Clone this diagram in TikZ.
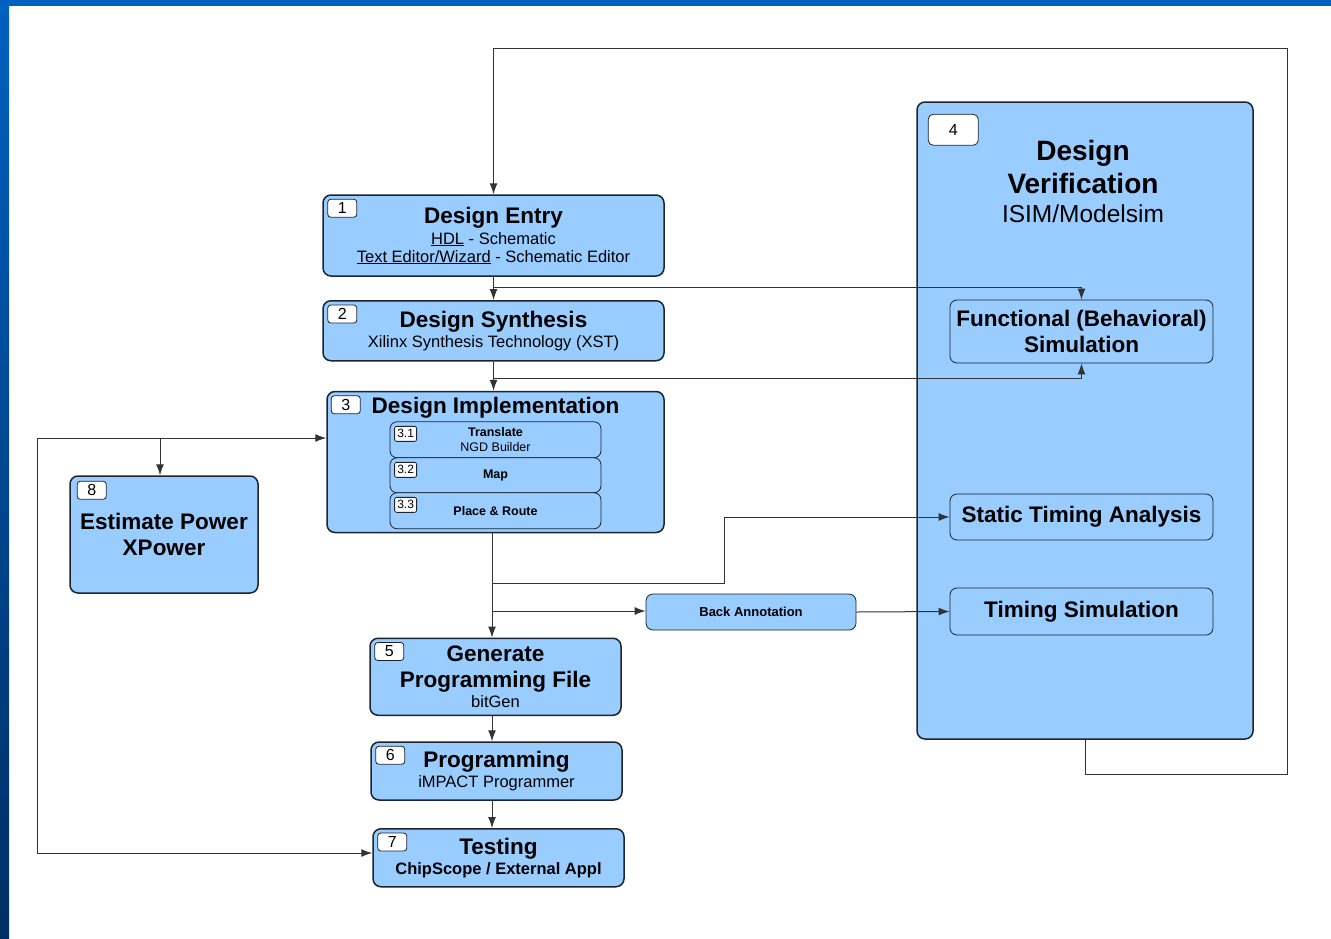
\documentclass[tikz,border=0pt]{standalone}
\usepackage{fontspec}
\setmainfont{Liberation Sans}
\usetikzlibrary{arrows.meta,positioning}
\definecolor{boxblue}{RGB}{153,204,255}
\definecolor{edgeblue}{RGB}{28,36,48}
\definecolor{bandtop}{RGB}{0,96,192}
\definecolor{bandbot}{RGB}{0,46,100}
\newcommand{\boxtitle}{\fontsize{22.5}{26}\selectfont\bfseries}
\newcommand{\boxsub}{\fontsize{16.5}{18}\selectfont}
\newcommand{\boxsmall}{\fontsize{12.5}{15}\selectfont}
\newcommand{\bigtitle}{\fontsize{28}{33}\selectfont\bfseries}
\tikzstyle{myNode}=[draw=edgeblue, line width=1.5pt, fill=boxblue,
	rounded corners=8pt, align=center, inner sep=0pt, font=\fontsize{16.5}{18}\selectfont]
\tikzstyle{subNode}=[draw=edgeblue, line width=0.8pt, fill=boxblue,
	rounded corners=7pt, align=center, inner sep=0pt, font=\fontsize{16.5}{18}\selectfont]
\tikzstyle{numbox}=[draw=edgeblue, line width=0.8pt, fill=white, rounded corners=3pt,
	minimum width=29pt, minimum height=18pt, inner sep=0pt, font=\fontsize{16}{16}\selectfont]
\tikzstyle{subnum}=[numbox, minimum width=22pt, minimum height=15pt,
	rounded corners=2pt, font=\fontsize{12}{12}\selectfont]
\tikzstyle{texto}=[align=center, font=\fontsize{16.5}{18}\selectfont]
\tikzstyle{line}=[draw, line width=1pt, color=black!80, -{Latex[length=11pt,width=8pt]}]
\newcommand{\myNode}[4]{node (p#1) [myNode, minimum width=#2, minimum height=#3]
	{#4}}
\newcommand{\stepNum}[1]{\path (p#1.north west)+(20,14) node (n#1) [numbox] {#1};}
\begin{document}
\begin{tikzpicture}[x=1pt,y=-1pt]
	
	% Page with the blue frame
	\fill[white] (0,0) rectangle (1331,938);
	\shade[top color=bandtop, bottom color=bandbot] (0,0) rectangle (9,938);
	\fill[bandtop] (0,0) rectangle (1331,6);
	\useasboundingbox (0,0) rectangle (1331,938);
	
	\path (493.5,235.5) \myNode{1}{341pt}{81pt}{{\boxtitle Design Entry}\\[3pt]
		{\boxsub \underline{HDL} - Schematic}\\
		{\boxsub \underline{Text Editor/Wizard} - Schematic Editor}};
	\path (p1.south)+(0,54) \myNode{2}{341pt}{60pt}{{\boxtitle Design Synthesis}\\[2pt]
		{\boxsub Xilinx Synthesis Technology (XST)}};
	\path (p2.south)+(2,100.5) \myNode{3}{337pt}{141pt}{};
	\path (p3.north)+(0,17) node (t3) [texto] {\boxtitle Design Implementation};
	\path (p3.south)+(0,143.5) \myNode{5}{251pt}{77pt}{{\boxtitle Generate}\\[8pt]
		{\boxtitle Programming File}\\[2pt] {\boxsub bitGen}};
	\path (p5.south)+(1,55) \myNode{6}{251pt}{58pt}{{\boxtitle Programming}\\[2pt]
		{\boxsub iMPACT Programmer}};
	\path (p6.south)+(2,57) \myNode{7}{251pt}{58pt}{{\boxtitle Testing}\\[2pt]
		{\boxsub\bfseries ChipScope / External Appl}};
	\path (164,534.5) \myNode{8}{188pt}{117pt}{{\boxtitle Estimate Power}\\[8pt]
		{\boxtitle XPower}};
	\path (1085,420.5) \myNode{4}{336pt}{637pt}{};
	\path (p4.north)+(-2,80) node (t4) [texto] {{\bigtitle Design}\\[6pt]
		{\bigtitle Verification}\\[10pt] {\fontsize{24.5}{27}\selectfont ISIM/Modelsim}};
	
	% Steps of the implementation
	\path (p3.north)+(0,49) node (p31) [subNode, minimum width=211pt, minimum height=36pt]
		{{\boxsmall\bfseries Translate}\\[-3pt] {\boxsmall NGD Builder}};
	\path (p3.north)+(0,84.5) node (p32) [subNode, minimum width=211pt, minimum height=35pt]
		{\boxsmall\bfseries Map};
	\path (p3.north)+(0,120) node (p33) [subNode, minimum width=211pt, minimum height=36pt]
		{\boxsmall\bfseries Place \& Route};
	\path (p31.north west)+(16,12.5) node (n31) [subnum] {3.1};
	\path (p32.north west)+(16,12.5) node (n32) [subnum] {3.2};
	\path (p33.north west)+(16,12.5) node (n33) [subnum] {3.3};
	
	% Verification steps
	\path (1081.5,331.5) node (p41) [subNode, minimum width=263pt, minimum height=63pt]
		{{\boxtitle Functional (Behavioral)}\\[4pt] {\boxtitle Simulation}};
	\path (1081.5,517) node (p42) [subNode, minimum width=263pt, minimum height=46pt]
		{\boxtitle Static Timing Analysis};
	\path (1081.5,611.5) node (p43) [subNode, minimum width=263pt, minimum height=47pt]
		{\boxtitle Timing Simulation};
	\path (751,612) node (p9) [subNode, minimum width=210pt, minimum height=36pt]
		{\fontsize{13}{15}\selectfont\bfseries Back Annotation};
	
	% Step numbers
	\stepNum{1}
	\stepNum{2}
	\path (p3.north west)+(19.5,14) node (n3) [numbox] {3};
	\stepNum{5}
	\stepNum{6}
	\stepNum{7}
	\path (p8.north west)+(22.5,15) node (n8) [numbox] {8};
	\path (p4.north west)+(37,28.5) node (n4) [numbox, minimum width=50pt,
		minimum height=31pt, rounded corners=5pt] {4};
	
	% Corners of the connectors
	\coordinate (spine) at (492,0);
	\coordinate (b1) at (493,287);
	\coordinate (b2) at (493,378);
	\coordinate (b3) at (492,583);
	\coordinate (b4) at (492,611);
	\coordinate (k1) at (724,583);
	\coordinate (r1) at (1287,774);
	\coordinate (r2) at (1287,48);
	\coordinate (l1) at (37,438);
	\coordinate (l2) at (37,853);
	\coordinate (l3) at (160,438);
	
	% Draw arrows between elements
	\path [line] (p1.south) -- (p2.north);
	\path [line] (p2.south) -- (p2.south |- p3.north);
	\path [line] (spine |- p3.south) -- (spine |- p5.north);
	\path [line] (spine |- p5.south) -- (spine |- p6.north);
	\path [line] (spine |- p6.south) -- (spine |- p7.north);
	
	\path [line] (b1) -| (p41.north);
	\path [line] (b2) -| (p41.south);
	\path [line] (b3) -- (k1) |- (p42.west);
	\path [line] (b4) -- (b4 -| p9.west);
	\path [line] (p9.east) -- (p43.west);
	
	\path [line] (p4.south) |- (r1) -- (r2) -| (p1.north);
	
	\path [line] (l1) -- (l1 -| p3.west);
	\path [line] (l1) -- (l2) -- (l2 -| p7.west);
	\path [line] (l3) -- (l3 |- p8.north);
	
\end{tikzpicture}
\end{document}
